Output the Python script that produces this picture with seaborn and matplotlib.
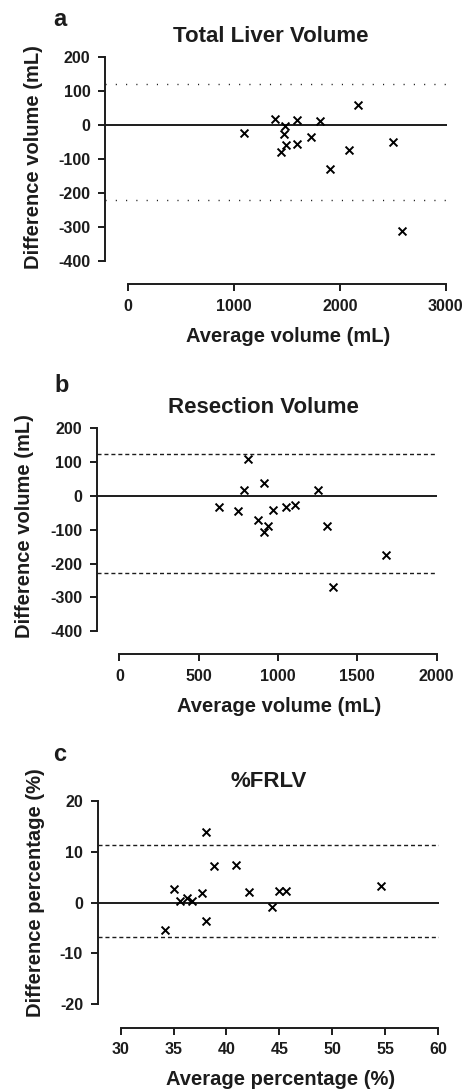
import matplotlib
matplotlib.use("Agg")
import matplotlib.pyplot as plt
import seaborn as sns
import pandas as pd

# ---------------------------------------------
# Data
# ---------------------------------------------
tlv_avg  = [1097, 1383, 1484, 1475, 1490, 1440, 1598, 1598, 1724, 1812, 1909, 2089, 2171, 2499, 2587]
tlv_diff = [-23, 18, -2, -26, -59, -80, 16, -56, -36, 12, -130, -72, 58, -51, -311]
tlv_loa  = [121, -220]

rv_avg  = [628, 746, 788, 813, 872, 914, 912, 939, 966, 1048, 1105, 1254, 1311, 1345, 1683]
rv_diff = [-34, -44, 18, 108, -71, 37, -106, -89, -42, -32, -28, 17, -88, -270, -175]
rv_loa  = [123, -229]

frlv_avg  = [34.2, 35.0, 35.6, 36.3, 36.7, 37.7, 38.1, 38.1, 38.8, 40.9, 42.1, 44.3, 45.0, 45.6, 54.6]
frlv_diff = [-5.4, 2.6, 0.3, 0.9, 0.4, 1.9, 13.9, -3.6, 7.3, 7.5, 2.1, -0.8, 2.3, 2.3, 3.2]
frlv_loa  = [11.4, -6.75]

panels = [
    dict(letter="a", title="Total Liver Volume", x=tlv_avg, y=tlv_diff, loa=tlv_loa,
         xticks=[0, 1000, 2000, 3000], yticks=[-400, -300, -200, -100, 0, 100, 200],
         xlim=(-220, 3010), ylim=(-469, 200), ls=(0, (0.8, 6.6)),
         xlabel="Average volume (mL)", ylabel="Difference volume (mL)",
         rect=[0.2239, 0.7397, 0.7286, 0.2078],
         title_pos=(0.486, 1.069), letter_pos=(-0.132, 1.138), ylab=(-0.181, 0.562)),
    dict(letter="b", title="Resection Volume", x=rv_avg, y=rv_diff, loa=rv_loa,
         xticks=[0, 500, 1000, 1500, 2000], yticks=[-400, -300, -200, -100, 0, 100, 200],
         xlim=(-143, 2004), ylim=(-468, 200), ls=(0, (2.9, 2.1)),
         xlabel="Average volume (mL)", ylabel="Difference volume (mL)",
         rect=[0.2062, 0.4008, 0.7262, 0.2070],
         title_pos=(0.491, 1.069), letter_pos=(-0.103, 1.159), ylab=(-0.184, 0.568)),
    dict(letter="c", title="%FRLV", x=frlv_avg, y=frlv_diff, loa=frlv_loa,
         xticks=[30, 35, 40, 45, 50, 55, 60], yticks=[-20, -10, 0, 10, 20],
         xlim=(27.83, 60.05), ylim=(-24.6, 20), ls=(0, (2.9, 2.1)),
         xlabel="Average percentage (%)", ylabel="Difference percentage (%)",
         rect=[0.2083, 0.0589, 0.7271, 0.2076],
         title_pos=(0.502, 1.063), letter_pos=(-0.11, 1.178), ylab=(-0.155, 0.594)),
]

INK = "#1c1c1c"

sns.set_style("ticks")
plt.rcParams["font.family"] = ["Liberation Sans", "DejaVu Sans"]
plt.rcParams["font.weight"] = "bold"
plt.rcParams["axes.unicode_minus"] = False
plt.rcParams["text.color"] = INK
plt.rcParams["xtick.color"] = INK
plt.rcParams["ytick.color"] = INK
plt.rcParams["axes.labelcolor"] = INK

fig = plt.figure(figsize=(4.69, 10.92), dpi=100)

for p in panels:
    ax = fig.add_axes(p["rect"])
    df = pd.DataFrame({"avg": p["x"], "diff": p["y"]})

    ax.axhline(0, color=INK, lw=1.4, zorder=1)
    for v in p["loa"]:
        ax.axhline(v, color=INK, lw=1.0, linestyle=p["ls"], zorder=1)

    sns.scatterplot(data=df, x="avg", y="diff", marker="x", color="black",
                    s=32, linewidth=1.4, ax=ax, zorder=3)

    ax.set_xlim(*p["xlim"])
    ax.set_ylim(*p["ylim"])
    ax.set_xticks(p["xticks"])
    ax.set_yticks(p["yticks"])
    ax.spines["top"].set_visible(False)
    ax.spines["right"].set_visible(False)
    ax.spines["left"].set_bounds(p["yticks"][0], p["yticks"][-1])
    ax.spines["bottom"].set_bounds(p["xticks"][0], p["xticks"][-1])
    for s in ("left", "bottom"):
        ax.spines[s].set_linewidth(1.4)
        ax.spines[s].set_color(INK)
    ax.tick_params(length=5, width=1.4, color=INK, labelsize=11.5, pad=5.5)
    for lab in ax.get_xticklabels() + ax.get_yticklabels():
        lab.set_fontweight("bold")

    ax.set_xlabel(p["xlabel"], fontsize=14.5, fontweight="bold")
    ax.set_ylabel(p["ylabel"], fontsize=14.5, fontweight="bold")
    ax.xaxis.set_label_coords(0.536, -0.188)
    ax.yaxis.set_label_coords(*p["ylab"])
    ax.text(*p["title_pos"], p["title"], transform=ax.transAxes, ha="center",
            va="baseline", fontsize=16, fontweight="bold")
    ax.text(*p["letter_pos"], p["letter"], transform=ax.transAxes, ha="center",
            va="baseline", fontsize=17, fontweight="bold")

plt.savefig("out.png", dpi=100)
